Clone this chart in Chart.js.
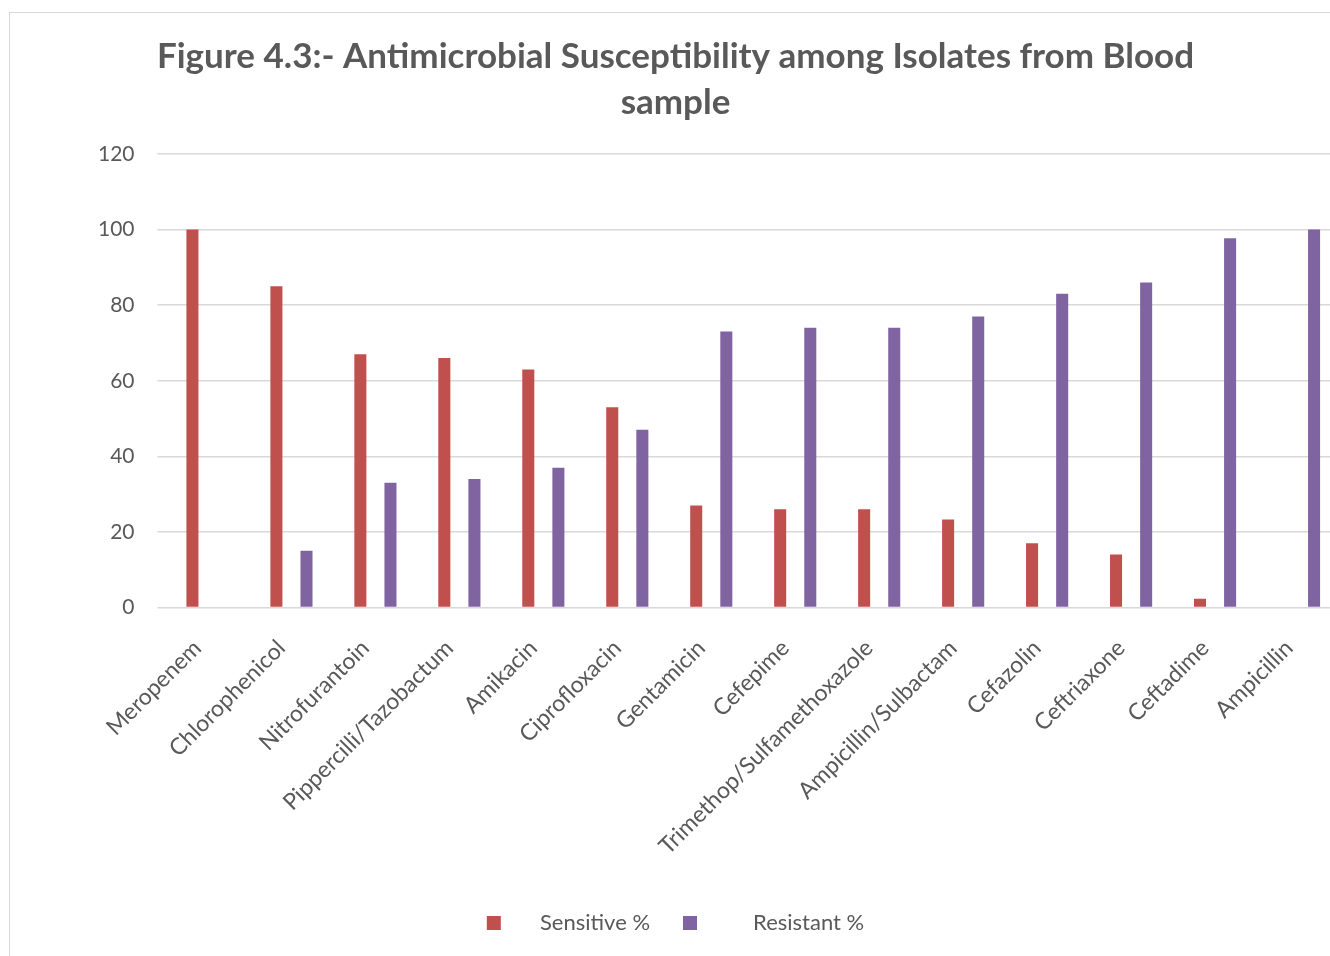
<!DOCTYPE html>
<html>
<head>
<meta charset="utf-8">
<script src="https://cdn.jsdelivr.net/npm/chart.js@4.4.1/dist/chart.umd.min.js"></script>
<style>
  html, body { margin: 0; padding: 0; background: #ffffff; overflow: hidden; }
  #frame {
    position: absolute; left: 9px; top: 12px;
    width: 1340px; height: 960px;
    border-left: 1.5px solid #d9d9d9; border-top: 1.5px solid #d9d9d9;
    background: #ffffff;
  }
  #wrap { position: absolute; left: 0; top: 0; width: 1331px; height: 960px; }
</style>
</head>
<body>
<div id="frame"><div id="wrap"><canvas id="chart"></canvas></div></div>
<script>
// Antibiotics tested on blood-culture isolates
const antibiotics = [
  "Meropenem", "Chlorophenicol", "Nitrofurantoin", "Pippercilli/Tazobactum",
  "Amikacin", "Ciprofloxacin", "Gentamicin", "Cefepime",
  "Trimethop/Sulfamethoxazole", "Ampicillin/Sulbactam", "Cefazolin",
  "Ceftriaxone", "Ceftadime", "Ampicillin"
];
// Percentage of isolates sensitive / resistant to each drug
const sensitivePct = [100, 85, 67, 66, 63, 53, 27, 26, 26, 23.3, 17, 14, 2.3, 0];
const resistantPct = [0, 15, 33, 34, 37, 47, 73, 74, 74, 77, 83, 86, 97.7, 100];
const yTicks = [0, 20, 40, 60, 80, 100, 120];

const seriesNames = ["Sensitive %", "Resistant %"];
const seriesColors = ["#c0504d", "#8064a2"];
// legend entries sit in equal-width slots, so the text gap differs per entry
const legendGaps = ["     ", "        "];
const textGray = "#595959";
const gridGray = "#d9d9d9";

new Chart(document.getElementById("chart"), {
  type: "bar",
  data: {
    labels: antibiotics,
    datasets: [
      { label: seriesNames[0], data: sensitivePct, backgroundColor: seriesColors[0] },
      { label: seriesNames[1], data: resistantPct, backgroundColor: seriesColors[1] }
    ]
  },
  options: {
    responsive: true,
    maintainAspectRatio: false,
    animation: false,
    categoryPercentage: 0.717,
    barPercentage: 0.4,
    layout: { padding: { top: 21, right: 0, left: 0, bottom: 29 } },
    plugins: {
      title: {
        display: true,
        text: ["Figure 4.3:- Antimicrobial Susceptibility among Isolates from Blood", "sample"],
        color: textGray,
        font: { family: "Lato", size: 35, weight: "bold", lineHeight: 1.314 },
        padding: { top: 0, bottom: 28 }
      },
      legend: {
        position: "bottom",
        labels: {
          color: textGray,
          font: { family: "Lato", size: 22 },
          boxWidth: 14,
          boxHeight: 14,
          padding: 33,
          generateLabels(chart) {
            return chart.data.datasets.map((ds, i) => ({
              text: legendGaps[i] + ds.label,
              fillStyle: ds.backgroundColor,
              strokeStyle: ds.backgroundColor,
              lineWidth: 0,
              fontColor: textGray,
              hidden: false,
              datasetIndex: i
            }));
          }
        }
      },
      tooltip: { enabled: false }
    },
    scales: {
      x: {
        grid: { display: false },
        border: { display: false },
        ticks: {
          color: textGray,
          font: { family: "Lato", size: 23 },
          maxRotation: 45,
          minRotation: 45,
          padding: 19,
          labelOffset: -10
        }
      },
      y: {
        min: 0,
        max: 120,
        afterBuildTicks(axis) { axis.ticks = yTicks.map(v => ({ value: v })); },
        afterFit(scale) { scale.width = 155.5; },
        grid: { color: gridGray, lineWidth: 1.5, drawTicks: true, tickLength: 8, tickColor: gridGray },
        border: { display: false },
        ticks: {
          color: textGray,
          font: { family: "Lato", size: 21 },
          padding: 23
        }
      }
    }
  }
});
</script>
</body>
</html>
